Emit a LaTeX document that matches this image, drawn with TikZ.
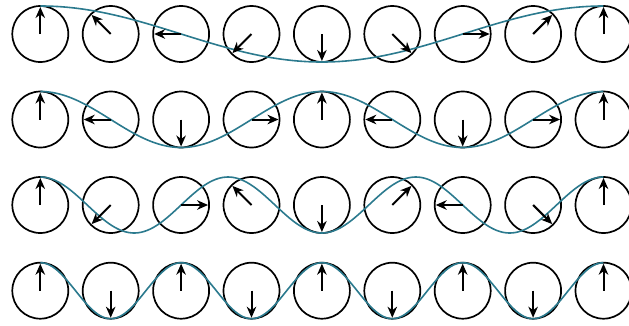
\documentclass[tikz,border=0pt]{standalone}
\usetikzlibrary{arrows.meta,calc}
\definecolor{wavecol}{HTML}{2B7A8E}
\begin{document}
\begin{tikzpicture}[x=1pt,y=-1pt,
  spin/.style={circle,draw=black,line width=1.7pt,minimum size=56pt,inner sep=0pt},
  spinarrow/.style={line width=2pt,-{Stealth[length=11pt,width=9.5pt,inset=3.5pt]}},
  wave/.style={draw=wavecol,line width=1.6pt}]
\useasboundingbox (0,0) rectangle (629,325);
\foreach \r/\cy in {1/34,2/119.5,3/205,4/290.7}{
  \foreach \i in {0,...,8}{
    \pgfmathsetmacro{\cx}{40.3+70.4*\i}
    \node[spin] (c-\r-\i) at (\cx,\cy) {};
  }
  \draw[wave] plot[domain=0:8,samples=241,smooth] ({40.3+70.4*\x},{\cy-28*cos(\r*45*\x)});
  \foreach \i in {0,...,8}{
    \pgfmathsetmacro{\th}{\r*45*\i}
    \coordinate (t-\r-\i) at ($(c-\r-\i.center)+({-27*sin(\th)},{-27*cos(\th)})$);
    \draw[spinarrow] (c-\r-\i.center) -- (t-\r-\i);
  }
}
\end{tikzpicture}
\end{document}
